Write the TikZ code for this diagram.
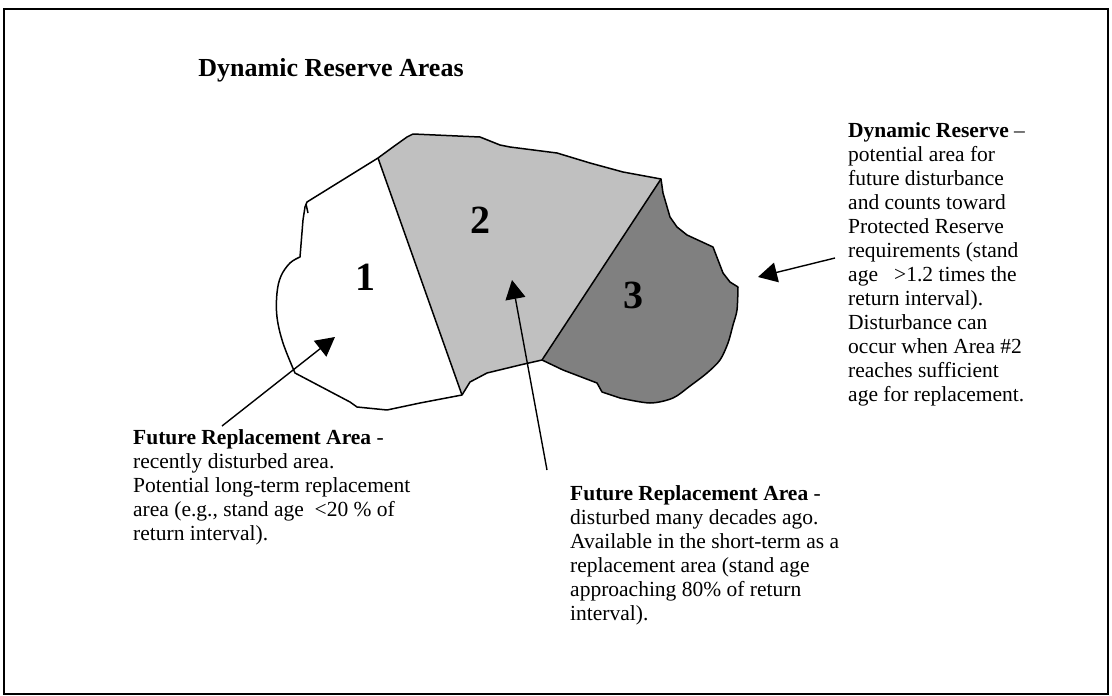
\documentclass[tikz,border=0pt]{standalone}
\usepackage{fontspec}
\setmainfont{Liberation Serif}
\usetikzlibrary{arrows.meta}
\begin{document}
\begin{tikzpicture}[x=1pt,y=-1pt,
  outline/.style={line width=1.5pt,line join=round},
  pointer/.style={line width=1.4pt,-{Triangle[length=19pt,width=20pt]}},
  note/.style={inner sep=0pt,anchor=north west,align=left,
    font=\fontsize{21.5}{24}\selectfont},
  areanum/.style={inner sep=0pt,font=\fontsize{40}{44}\selectfont\bfseries}]
\useasboundingbox (0,0) rectangle (1112,696);
% frame
\draw[line width=1.3pt] (4,9) rectangle (1108,694);
\node[inner sep=0pt,font=\fontsize{26}{30}\selectfont\bfseries] (title) at (331,70) {Dynamic Reserve Areas};

% corner points shared by the areas
\coordinate (A) at (378,158);
\coordinate (B) at (661,179);
\coordinate (C) at (542,360);
\coordinate (D) at (462,395);

% area 2
\fill[fill={rgb,255:red,192;green,192;blue,192}]
  (A) -- (393,147) -- (407,137) -- (413,134) -- (480,137) -- (500,145)
  -- (510,147) -- (557,153) -- (590,163) -- (623,172) -- (B)
  -- (C) -- (520,365) -- (487,373) -- (470,382) -- (D) -- cycle;
% area 3
\fill[fill={rgb,255:red,128;green,128;blue,128}]
  (B) -- (663,193) -- (670,217) -- (677,227) -- (687,235) -- (713,247)
  -- (718,260) -- (723,273) -- (730,282)
  -- plot[smooth,tension=0.5] coordinates {(738,287) (737,310) (733,325)
    (728,343) (720,360) (707,373) (690,386) (673,398) (650,403) (620,398)}
  -- (602,392) -- (597,383) -- (563,370) -- (C) -- cycle;

% outer outline
\draw[outline]
  (A) -- (393,147) -- (407,137) -- (413,134) -- (480,137) -- (500,145)
  -- (510,147) -- (557,153) -- (590,163) -- (623,172) -- (B)
  -- (663,193) -- (670,217) -- (677,227) -- (687,235) -- (713,247)
  -- (718,260) -- (723,273) -- (730,282)
  -- plot[smooth,tension=0.5] coordinates {(738,287) (737,310) (733,325)
    (728,343) (720,360) (707,373) (690,386) (673,398) (650,403) (620,398)}
  -- (602,392) -- (597,383)
  -- (563,370) -- (C) -- (520,365) -- (487,373) -- (470,382) -- (D)
  -- (420,403) -- (387,410) -- (357,407) -- (350,402)
  -- plot[smooth,tension=0.6] coordinates {(295,373) (283,343) (277,317)
    (277,293) (281,276) (290,263) (300,257)}
  -- (303,220) -- (305,207) -- (307,202) -- (A);
\draw[line width=1.5pt] (306,204) -- (308,213);
% dividing lines
\draw[outline] (A) -- (D);
\draw[outline] (B) -- (C);

% area numbers
\node[areanum] (n1) at (365,277) {1};
\node[areanum] (n2) at (480,220) {2};
\node[areanum] (n3) at (633,295) {3};

% notes
\node[note] (left) at (133,429) {\textbf{Future Replacement Area} -\\
recently disturbed area.\\
Potential long-term replacement\\
area (e.g., stand age \ <20 \% of\\
return interval).};
\node[note] (mid) at (570,485) {\textbf{Future Replacement Area} -\\
disturbed many decades ago.\\
Available in the short-term as a\\
replacement area (stand age\\
approaching 80\% of return\\
interval).};
\node[note] (right) at (848,122) {\textbf{Dynamic Reserve} –\\
potential area for\\
future disturbance\\
and counts toward\\
Protected Reserve\\
requirements (stand\\
age \ \ >1.2 times the\\
return interval).\\
Disturbance can\\
occur when Area \#2\\
reaches sufficient\\
age for replacement.};

% pointers from the notes into the areas
\coordinate (t1) at (222,426);
\coordinate (h1) at (335,337);
\coordinate (t2) at (547,470);
\coordinate (h2) at (512,280);
\coordinate (t3) at (835,258);
\coordinate (h3) at (758,277);
\draw[pointer] (t1) -- (h1);
\draw[pointer] (t2) -- (h2);
\draw[pointer] (t3) -- (h3);
\end{tikzpicture}
\end{document}
